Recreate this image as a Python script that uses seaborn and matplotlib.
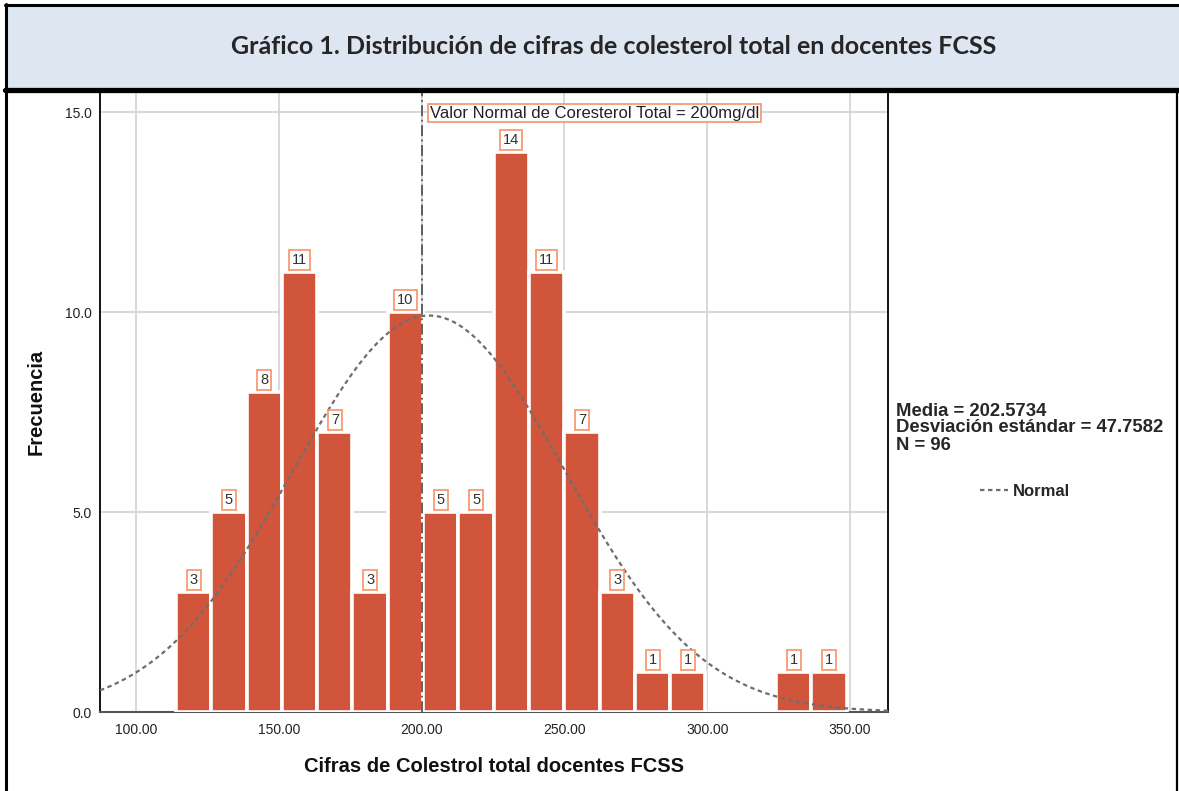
import numpy as np
import pandas as pd
import matplotlib
matplotlib.use('Agg')
import matplotlib.pyplot as plt
import seaborn as sns
from matplotlib.patches import Rectangle
from matplotlib.lines import Line2D

# histogram data
bin_start = 114.0
bin_width = 12.36
counts = [3, 5, 8, 11, 7, 3, 10, 5, 5, 14, 11, 7, 3, 1, 1, 0, 0, 1, 1]
x_ticks = [100, 150, 200, 250, 300, 350]
y_ticks = [0, 5, 10, 15]

media = 202.5734
desv = 47.7582
n_total = 96
ref_value = 200

title = 'Gráfico 1. Distribución de cifras de colesterol total en docentes FCSS'
ref_label = 'Valor Normal de Coresterol Total = 200mg/dl'
x_label = 'Cifras de Colestrol total docentes FCSS'
y_label = 'Frecuencia'

bar_color = '#D0553A'
box_edge = '#F5926A'

sns.set_theme(style='white')
plt.rcParams['font.family'] = ['Liberation Sans', 'DejaVu Sans']

fig = plt.figure(figsize=(11.79, 7.91), dpi=100)
W, H = 1179, 791

# title band
fig.patches.append(Rectangle((5 / W, 1 - 90 / H), 1.0, 86 / H, transform=fig.transFigure,
                             facecolor='#DEE6F2', edgecolor='none', zorder=0))
fig.add_artist(Line2D([5 / W, 1], [1 - 4.5 / H, 1 - 4.5 / H], color='black', lw=2.2))
fig.add_artist(Line2D([6 / W, 6 / W], [1 - 4 / H, 0], color='black', lw=2.2))
fig.add_artist(Line2D([5 / W, 1], [1 - 89.5 / H, 1 - 89.5 / H], color='black', lw=3.8))
fig.add_artist(Line2D([1177 / W, 1177 / W], [1 - 90 / H, 0], color='black', lw=1.6))
fig.text(614 / W, 1 - 47 / H, title, ha='center', va='center', fontsize=18,
         fontweight='bold', family=['Lato', 'DejaVu Sans'])

ax = fig.add_axes([100 / W, 79 / H, 788 / W, 620 / H])
edges = [bin_start + bin_width * i for i in range(len(counts) + 1)]
centers = [(a + b) / 2 for a, b in zip(edges[:-1], edges[1:])]
hist_df = pd.DataFrame({'valor': centers, 'frecuencia': counts})
sns.histplot(data=hist_df, x='valor', weights='frecuencia', bins=edges, color=bar_color,
             edgecolor='white', linewidth=2.6, alpha=1, ax=ax, zorder=3)

for cx, c in zip(centers, counts):
    if c > 0:
        ax.annotate(str(c), (cx, c), xytext=(0, 3.8), textcoords='offset points',
                    ha='center', va='bottom', fontsize=10.5, color='#333333', zorder=5,
                    bbox=dict(boxstyle='square,pad=0.2', fc='white', ec=box_edge, lw=1.2))

# fitted normal curve
xs = np.linspace(87.4, 363.3, 300)
ys = n_total * bin_width * np.exp(-0.5 * ((xs - media) / desv) ** 2) / (desv * np.sqrt(2 * np.pi))
sns.lineplot(x=xs, y=ys, color='#6E6E6E', lw=1.6, linestyle=(0, (2, 1.6)), ax=ax,
             zorder=4, label='Normal')

ax.axvline(ref_value, color='#555555', lw=1.3, linestyle=(0, (6, 2, 1, 2)), zorder=4)
ax.text(ref_value + 3, 14.97, ref_label, ha='left', va='center', fontsize=12, color='#222222',
        zorder=6, bbox=dict(boxstyle='square,pad=0.1', fc='white', ec=box_edge, lw=1.2))

ax.set_xlim(87.4, 363.3)
ax.set_ylim(0, 15.5)
ax.set_xticks(x_ticks)
ax.set_xticklabels([f'{v:.2f}' for v in x_ticks])
ax.set_yticks(y_ticks)
ax.set_yticklabels([f'{v:.1f}' for v in y_ticks])
ax.tick_params(axis='both', length=0, labelsize=10, colors='#222222')
ax.tick_params(axis='x', pad=8)
ax.tick_params(axis='y', pad=6)
ax.grid(True, color='#D2D2D2', lw=1.2)
ax.set_axisbelow(True)
ax.set_xlabel(x_label, fontsize=14.5, fontweight='bold', labelpad=14, color='#111111')
ax.set_ylabel(y_label, fontsize=14.5, fontweight='bold', labelpad=14, color='#111111')
for side in ['left', 'right']:
    ax.spines[side].set_color('black')
    ax.spines[side].set_linewidth(1.3)
ax.spines['bottom'].set_color('#555555')
ax.spines['bottom'].set_linewidth(1.5)
ax.spines['top'].set_visible(False)

fig.text(896 / W, 1 - 428 / H,
         f'Media = {media:.4f}\nDesviación estándar = {desv:.4f}\nN = {n_total}',
         ha='left', va='center', fontsize=13.3, fontweight='bold', linespacing=1.0)
ax.legend(loc='center left', bbox_to_anchor=(965 / W, 1 - 491 / H),
          bbox_transform=fig.transFigure, frameon=False, handlelength=1.7, handletextpad=0.3,
          prop={'weight': 'bold', 'size': 12})

fig.savefig('out.png', dpi=100)
